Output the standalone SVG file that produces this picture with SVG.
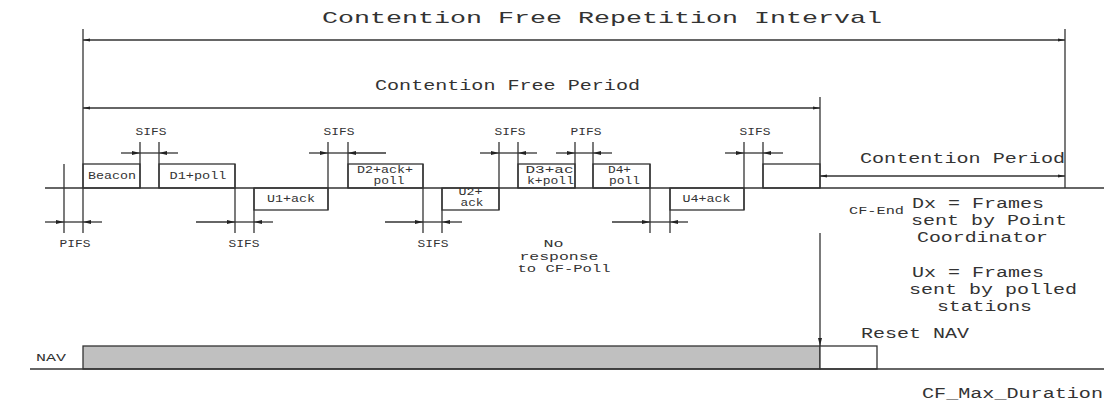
<svg xmlns="http://www.w3.org/2000/svg" width="1104" height="410" viewBox="0 0 1104 410">
<style>
.ln{stroke:#333;stroke-width:1.3;fill:none}
.box{stroke:#333;stroke-width:1.3;fill:none}
text{font-family:"Liberation Mono","Courier New",monospace;fill:#333}
.s{font-size:10px}
.n{font-size:11px}
.m{font-size:14px}
.l{font-size:17px}
.c{text-anchor:middle}
</style>
<defs>
<marker id="ah" markerUnits="userSpaceOnUse" markerWidth="8" markerHeight="6" viewBox="0 0 8 6" refX="8" refY="3" orient="auto"><path d="M0,1 L8,3 L0,5 z" fill="#222"/></marker>
<marker id="bh" markerUnits="userSpaceOnUse" markerWidth="7" markerHeight="4" viewBox="0 0 7 4" refX="7" refY="2" orient="auto-start-reverse"><path d="M0,0.5 L7,2 L0,3.5 z" fill="#222"/></marker>
</defs>
<rect width="1104" height="410" fill="#fff"/>

<g id="labels">
<text class="l" x="322" y="23" textLength="560" lengthAdjust="spacingAndGlyphs">Contention Free Repetition Interval</text>
<text class="m" x="375" y="90" textLength="265" lengthAdjust="spacingAndGlyphs">Contention Free Period</text>
<text class="m" x="860" y="163" textLength="205" lengthAdjust="spacingAndGlyphs">Contention Period</text>
<text class="s c" x="151" y="135" textLength="31" lengthAdjust="spacingAndGlyphs">SIFS</text>
<text class="s c" x="339" y="135" textLength="31" lengthAdjust="spacingAndGlyphs">SIFS</text>
<text class="s c" x="510" y="135" textLength="31" lengthAdjust="spacingAndGlyphs">SIFS</text>
<text class="s c" x="586" y="135" textLength="31" lengthAdjust="spacingAndGlyphs">PIFS</text>
<text class="s c" x="755" y="135" textLength="31" lengthAdjust="spacingAndGlyphs">SIFS</text>
<text class="s c" x="75" y="247" textLength="31" lengthAdjust="spacingAndGlyphs">PIFS</text>
<text class="s c" x="244" y="247" textLength="31" lengthAdjust="spacingAndGlyphs">SIFS</text>
<text class="s c" x="433" y="247" textLength="31" lengthAdjust="spacingAndGlyphs">SIFS</text>
<text class="n c" x="553.5" y="247" textLength="20" lengthAdjust="spacingAndGlyphs">No</text>
<text class="n c" x="559" y="259.5" textLength="79" lengthAdjust="spacingAndGlyphs">response</text>
<text class="n c" x="564" y="272" textLength="93" lengthAdjust="spacingAndGlyphs">to CF-Poll</text>
<text class="s" x="849" y="214" textLength="55" lengthAdjust="spacingAndGlyphs">CF-End</text>
<text class="m" x="912" y="208" textLength="132" lengthAdjust="spacingAndGlyphs">Dx = Frames</text>
<text class="m" x="911" y="224.5" textLength="156" lengthAdjust="spacingAndGlyphs">sent by Point</text>
<text class="m" x="917" y="241.5" textLength="131" lengthAdjust="spacingAndGlyphs">Coordinator</text>
<text class="m" x="912" y="276.5" textLength="132" lengthAdjust="spacingAndGlyphs">Ux = Frames</text>
<text class="m" x="909" y="293.5" textLength="168" lengthAdjust="spacingAndGlyphs">sent by polled</text>
<text class="m" x="937" y="310.5" textLength="95" lengthAdjust="spacingAndGlyphs">stations</text>
<text class="m" x="861" y="338" textLength="108" lengthAdjust="spacingAndGlyphs">Reset NAV</text>
<text class="m" x="922" y="398" textLength="181" lengthAdjust="spacingAndGlyphs">CF_Max_Duration</text>
<text class="s" x="36" y="361" textLength="30" lengthAdjust="spacingAndGlyphs">NAV</text>
</g>

<g id="beacon"><rect class="box" x="83" y="164" width="57" height="24"/><text class="s c" x="112" y="179" textLength="48" lengthAdjust="spacingAndGlyphs">Beacon</text></g>
<g id="d1"><rect class="box" x="159" y="164" width="76" height="24"/><text class="s c" x="198" y="179" textLength="57" lengthAdjust="spacingAndGlyphs">D1+poll</text></g>
<g id="u1"><rect class="box" x="254" y="188" width="74" height="22"/><text class="s c" x="291" y="202" textLength="48" lengthAdjust="spacingAndGlyphs">U1+ack</text></g>
<g id="d2"><rect class="box" x="348" y="164" width="75" height="24"/><text class="s c" x="385" y="172.5" textLength="56" lengthAdjust="spacingAndGlyphs">D2+ack+</text><text class="s c" x="389" y="184" textLength="31" lengthAdjust="spacingAndGlyphs">poll</text></g>
<g id="u2"><rect class="box" x="442" y="188" width="57" height="22"/><text class="s c" x="470.5" y="194.5" textLength="24" lengthAdjust="spacingAndGlyphs">U2+</text><text class="s c" x="472" y="206" textLength="23" lengthAdjust="spacingAndGlyphs">ack</text></g>
<g id="d3"><rect class="box" x="518" y="164" width="57" height="24"/><text class="s c" x="549.5" y="172.5" textLength="48" lengthAdjust="spacingAndGlyphs">D3+ac</text><text class="s c" x="550.5" y="184" textLength="47" lengthAdjust="spacingAndGlyphs">k+poll</text></g>
<g id="d4"><rect class="box" x="593" y="164" width="57" height="24"/><text class="s c" x="619.5" y="172.5" textLength="23" lengthAdjust="spacingAndGlyphs">D4+</text><text class="s c" x="624.5" y="184" textLength="31" lengthAdjust="spacingAndGlyphs">poll</text></g>
<g id="u4"><rect class="box" x="670" y="188" width="74" height="22"/><text class="s c" x="706.5" y="202" textLength="48" lengthAdjust="spacingAndGlyphs">U4+ack</text></g>
<g id="cfend"><rect class="box" x="763" y="164" width="57" height="24"/></g>
<g id="nav"><rect x="83" y="346" width="737" height="23" fill="#c0c0c0" stroke="#333" stroke-width="1.3"/><rect x="820" y="346" width="57" height="23" fill="#fff" stroke="#333" stroke-width="1.3"/></g>

<g id="connectors" class="ln">
<line x1="45" y1="188" x2="1104" y2="188"/>
<line x1="30" y1="369" x2="1104" y2="369"/>
<line x1="83" y1="40" x2="1065" y2="40" marker-start="url(#bh)" marker-end="url(#bh)"/>
<line x1="83" y1="108" x2="820" y2="108" marker-start="url(#bh)" marker-end="url(#bh)"/>
<line x1="820" y1="176" x2="1065" y2="176" marker-start="url(#bh)" marker-end="url(#bh)"/>
<line x1="83" y1="29" x2="83" y2="233"/>
<line x1="1065" y1="29" x2="1065" y2="188"/>
<line x1="820" y1="97" x2="820" y2="188"/>
<line x1="820" y1="233" x2="820" y2="346" marker-end="url(#ah)"/>
<line x1="64" y1="164" x2="64" y2="233"/>
<line x1="140" y1="142" x2="140" y2="188"/>
<line x1="159" y1="142" x2="159" y2="188"/>
<line x1="235" y1="164" x2="235" y2="233"/>
<line x1="254" y1="188" x2="254" y2="233"/>
<line x1="328" y1="142" x2="328" y2="210"/>
<line x1="348" y1="142" x2="348" y2="188"/>
<line x1="423" y1="164" x2="423" y2="233"/>
<line x1="442" y1="188" x2="442" y2="233"/>
<line x1="499" y1="142" x2="499" y2="210"/>
<line x1="518" y1="142" x2="518" y2="188"/>
<line x1="575" y1="142" x2="575" y2="188"/>
<line x1="593" y1="142" x2="593" y2="188"/>
<line x1="650" y1="164" x2="650" y2="233"/>
<line x1="670" y1="188" x2="670" y2="233"/>
<line x1="744" y1="142" x2="744" y2="210"/>
<line x1="763" y1="142" x2="763" y2="188"/>
<!-- top timing arrows -->
<line x1="121" y1="153" x2="140" y2="153" marker-end="url(#ah)"/><line x1="140" y1="153" x2="159" y2="153"/><line x1="178" y1="153" x2="159" y2="153" marker-end="url(#ah)"/>
<line x1="309" y1="153" x2="328" y2="153" marker-end="url(#ah)"/><line x1="328" y1="153" x2="348" y2="153"/><line x1="386" y1="153" x2="348" y2="153" marker-end="url(#ah)"/>
<line x1="480" y1="153" x2="499" y2="153" marker-end="url(#ah)"/><line x1="499" y1="153" x2="518" y2="153"/><line x1="537" y1="153" x2="518" y2="153" marker-end="url(#ah)"/>
<line x1="556" y1="153" x2="575" y2="153" marker-end="url(#ah)"/><line x1="575" y1="153" x2="593" y2="153"/><line x1="612" y1="153" x2="593" y2="153" marker-end="url(#ah)"/>
<line x1="725" y1="153" x2="744" y2="153" marker-end="url(#ah)"/><line x1="744" y1="153" x2="763" y2="153"/><line x1="783" y1="153" x2="763" y2="153" marker-end="url(#ah)"/>
<!-- bottom timing arrows -->
<line x1="45" y1="222" x2="64" y2="222" marker-end="url(#ah)"/><line x1="64" y1="222" x2="83" y2="222"/><line x1="102" y1="222" x2="83" y2="222" marker-end="url(#ah)"/>
<line x1="196" y1="222" x2="235" y2="222" marker-end="url(#ah)"/><line x1="235" y1="222" x2="254" y2="222"/><line x1="273" y1="222" x2="254" y2="222" marker-end="url(#ah)"/>
<line x1="385" y1="222" x2="423" y2="222" marker-end="url(#ah)"/><line x1="423" y1="222" x2="442" y2="222"/><line x1="462" y1="222" x2="442" y2="222" marker-end="url(#ah)"/>
<line x1="612" y1="222" x2="650" y2="222" marker-end="url(#ah)"/><line x1="650" y1="222" x2="670" y2="222"/><line x1="688" y1="222" x2="670" y2="222" marker-end="url(#ah)"/>
</g>
</svg>
